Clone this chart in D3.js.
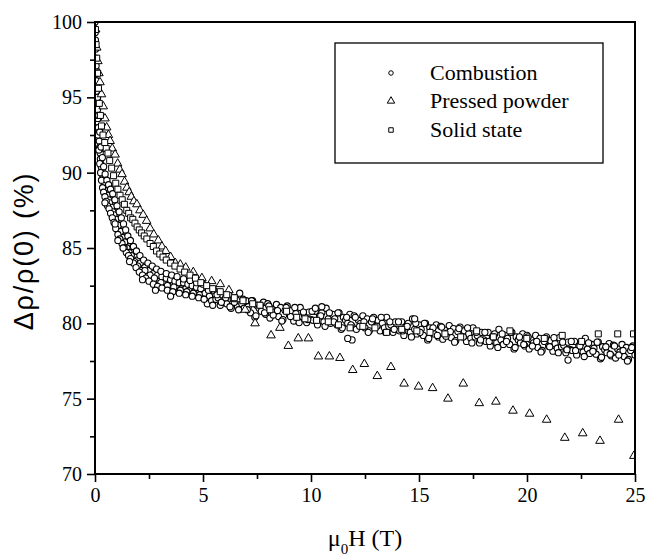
<!DOCTYPE html>
<html>
<head>
<meta charset="utf-8">
<script src="https://cdn.jsdelivr.net/npm/d3@7/dist/d3.min.js"></script>
<style>
  html, body { margin: 0; padding: 0; background: #fff; }
  svg { display: block; }
</style>
</head>
<body>
<svg id="chart" width="646" height="557"></svg>
<script>
// ---------- data ----------
const seriesNames = ["Combustion", "Pressed powder", "Solid state"];
const xTicks = [0, 5, 10, 15, 20, 25];
const yTicks = [70, 75, 80, 85, 90, 95, 100];
const xMinorTicks = [2.5, 7.5, 12.5, 17.5, 22.5];
const yMinorTicks = [72.5, 77.5, 82.5, 87.5, 92.5, 97.5];

const combustion = [
  // steep part, band centre
  [0.00,100.0],[0.01,99.3],[0.02,98.8],[0.03,98.2],[0.04,97.6],[0.05,97.1],[0.06,96.6],[0.07,96.1],
  [0.08,95.7],[0.09,95.3],[0.10,94.9],[0.12,94.2],[0.14,93.6],[0.16,93.0],[0.18,92.5],[0.20,92.1],
  [0.22,91.7],[0.24,91.3],[0.27,90.9],[0.30,90.5],[0.33,90.2],[0.36,89.9],[0.40,89.7],[0.44,89.5],
  [0.48,89.3],[0.52,89.1],[0.56,88.9],[0.60,88.8],[0.65,88.6],[0.70,88.4],[0.75,88.2],[0.80,88.0],
  [0.85,87.8],[0.90,87.6],[0.95,87.4],[1.00,87.2],[1.05,87.0],[1.10,86.8],[1.15,86.6],[1.20,86.4],
  [1.25,86.2],[1.30,86.0],[1.35,85.8],[1.40,85.6],[1.45,85.4],[1.50,85.2],[1.55,85.1],[1.60,84.9],
  [1.65,84.9],[1.70,84.6],[1.75,84.7],[1.80,84.3],[1.85,84.4],[1.90,84.1],[1.95,84.2],[2.00,83.9],
  [2.10,84.0],[2.20,83.6],[2.30,83.7],[2.40,83.3],[2.50,83.5],[2.60,83.1],[2.70,83.3],[2.80,82.9],
  [2.90,83.2],[3.00,82.8],[3.10,83.1],[3.20,82.7],[3.30,83.0],[3.40,82.6],[3.50,82.9],[3.60,82.5],
  [3.70,82.8],[3.80,82.4],[3.90,82.7],[4.00,82.3],[4.10,82.7],[4.20,82.3],[4.30,82.6],[4.40,82.2],
  [4.50,82.5],[4.60,82.1],[4.70,82.4],[4.80,82.0],[4.90,82.3],[5.00,81.9],
  // steep part, second centre sweep
  [0.13,93.6],[0.17,92.6],[0.21,91.6],[0.25,90.9],[0.29,90.4],[0.34,89.9],[0.38,89.5],[0.43,89.2],
  [0.50,88.8],[0.57,88.5],[0.63,88.2],[0.68,88.0],[0.77,87.7],[0.83,87.4],[0.88,87.2],[0.98,86.9],
  [1.08,86.5],[1.18,86.1],[1.28,85.7],[1.38,85.4],[1.48,85.0],[1.58,84.7],[1.68,84.5],[1.83,84.1],
  [1.98,83.8],[2.15,83.5],[2.31,83.5],[2.55,83.2],[2.75,83.0],[3.05,82.7],[3.35,82.5],[3.65,82.4],
  [3.95,82.2],[4.25,82.1],[4.55,82.0],[4.85,81.9],
  // steep part, lower side
  [0.06,95.4],[0.10,93.8],[0.14,92.5],[0.18,91.5],[0.22,90.6],[0.26,90.0],[0.30,89.5],[0.35,89.0],
  [0.40,88.7],[0.46,88.4],[0.52,88.1],[0.58,87.8],[0.65,87.6],[0.72,87.3],[0.80,87.0],[0.88,86.7],
  [0.96,86.3],[1.06,85.9],[1.15,85.6],[1.25,85.3],[1.35,85.0],[1.45,84.7],[1.55,84.5],[1.65,84.3],
  [1.78,84.0],[1.90,83.7],[2.05,83.4],[2.20,83.2],[2.35,83.0],[2.50,82.8],[2.70,82.6],[2.90,82.45],
  [3.10,82.35],[3.35,82.2],[3.60,82.1],[3.90,82.0],[4.20,81.9],[4.50,81.8],[4.80,81.7],
  // steep part, upper side
  [0.12,95.0],[0.17,93.8],[0.22,92.7],[0.28,91.7],[0.34,91.0],[0.40,90.4],[0.47,89.9],[0.55,89.5],
  [0.63,89.2],[0.72,88.9],[0.82,88.6],[0.92,88.2],[1.02,87.8],[1.12,87.4],[1.22,87.0],[1.32,86.6],
  [1.42,86.2],[1.52,85.8],[1.64,85.5],[1.78,85.1],[1.92,84.8],[2.08,84.5],[2.25,84.2],[2.45,84.0],
  [2.65,83.8],[2.85,83.6],[3.05,83.45],[3.30,83.3],[3.55,83.2],[3.80,83.1],[4.10,82.95],[4.40,82.85],
  [4.70,82.7],[5.00,82.6],
  // steep part, stray points
  [1.06,85.5],[0.93,86.6],[1.30,85.0],[1.60,84.1],[2.20,82.9],[2.80,82.2],[3.50,81.8],[0.46,88.0],
  // flat part
  [5.1,82.0],[5.2,81.3],[5.3,81.8],[5.4,81.5],[5.5,82.2],[5.6,81.6],[5.7,81.7],[5.8,81.2],[5.9,81.9],[6.0,81.4],
  [6.1,81.3],[6.2,81.9],[6.3,81.0],[6.4,81.6],[6.5,81.7],[6.6,81.1],[6.7,82.0],[6.8,81.3],[6.9,81.0],[7.0,81.5],
  [7.1,81.1],[7.2,80.7],[7.3,81.5],[7.4,80.4],[7.5,81.2],[7.6,81.0],[7.7,80.8],[7.8,81.4],[7.9,80.6],[8.0,81.3],
  [8.1,80.35],[8.2,80.95],[8.3,80.75],[8.4,81.25],[8.5,80.45],[8.6,81.05],[8.7,80.25],[8.8,80.85],[8.9,81.15],[9.0,80.55],
  [9.1,80.85],[9.2,80.15],[9.3,80.65],[9.4,80.35],[9.5,81.05],[9.6,80.45],[9.7,80.55],[9.8,80.05],[9.9,80.75],[10.0,80.25],
  [10.1,80.2],[10.2,80.8],[10.3,79.9],[10.4,80.5],[10.5,80.7],[10.6,80.1],[10.7,81.0],[10.8,80.3],[10.9,80.0],[11.0,80.6],
  [11.1,80.3],[11.2,79.9],[11.3,80.7],[11.4,79.6],[11.5,80.4],[11.6,80.2],[11.7,80.0],[11.8,80.6],[11.9,79.8],[12.0,80.5],
  [12.1,79.6],[12.2,80.2],[12.3,80.0],[12.4,80.5],[12.5,79.7],[12.6,80.3],[12.7,79.5],[12.8,80.1],[12.9,80.4],[13.0,79.8],
  [13.1,80.2],[13.2,79.5],[13.3,80.0],[13.4,79.7],[13.5,80.4],[13.6,79.8],[13.7,79.9],[13.8,79.4],[13.9,80.1],[14.0,79.6],
  [14.1,79.5],[14.2,80.1],[14.3,79.2],[14.4,79.8],[14.5,80.0],[14.6,79.4],[14.7,80.3],[14.8,79.6],[14.9,79.3],[15.0,79.9],
  [15.1,79.6],[15.2,79.2],[15.3,80.0],[15.4,78.9],[15.5,79.7],[15.6,79.5],[15.7,79.3],[15.8,79.9],[15.9,79.1],[16.0,79.8],
  [16.1,78.95],[16.2,79.55],[16.3,79.35],[16.4,79.85],[16.5,79.05],[16.6,79.65],[16.7,78.85],[16.8,79.45],[16.9,79.75],[17.0,79.15],
  [17.1,79.5],[17.2,78.8],[17.3,79.3],[17.4,79.0],[17.5,79.7],[17.6,79.1],[17.7,79.2],[17.8,78.7],[17.9,79.4],[18.0,78.9],
  [18.1,78.8],[18.2,79.4],[18.3,78.5],[18.4,79.1],[18.5,79.3],[18.6,78.7],[18.7,79.6],[18.8,78.9],[18.9,78.6],[19.0,79.2],
  [19.1,79.0],[19.2,78.6],[19.3,79.4],[19.4,78.3],[19.5,79.1],[19.6,78.9],[19.7,78.7],[19.8,79.3],[19.9,78.5],[20.0,79.2],
  [20.1,78.3],[20.2,78.9],[20.3,78.7],[20.4,79.2],[20.5,78.4],[20.6,79.0],[20.7,78.2],[20.8,78.8],[20.9,79.1],[21.0,78.5],
  [21.1,78.85],[21.2,78.15],[21.3,78.65],[21.4,78.35],[21.5,79.05],[21.6,78.45],[21.7,78.55],[21.8,78.05],[21.9,78.75],[22.0,78.25],
  [22.1,78.2],[22.2,78.8],[22.3,77.9],[22.4,78.5],[22.5,78.7],[22.6,78.1],[22.7,79.0],[22.8,78.3],[22.9,78.0],[23.0,78.6],
  [23.1,78.35],[23.2,77.95],[23.3,78.75],[23.4,77.65],[23.5,78.45],[23.6,78.25],[23.7,78.05],[23.8,78.65],[23.9,77.85],[24.0,78.55],
  [24.1,77.7],[24.2,78.3],[24.3,78.1],[24.4,78.6],[24.5,77.8],[24.6,78.4],[24.7,77.6],[24.8,78.2],[24.9,78.5],[25.0,77.9],
  [5.05,81.6],[5.25,82.2],[5.45,81.2],[5.65,81.9],[5.85,81.4],
  [6.05,81.7],[6.25,81.1],[6.45,81.4],[6.65,80.9],[6.85,81.6],
  [7.05,80.9],[7.25,81.5],[7.45,80.5],[7.65,81.2],[7.85,80.7],
  [8.05,81.15],[8.25,80.55],[8.45,80.85],[8.65,80.15],[8.85,81.05],
  [9.05,80.45],[9.25,81.05],[9.45,80.05],[9.65,80.75],[9.85,80.25],
  [10.05,80.8],[10.25,80.2],[10.45,80.5],[10.65,79.8],[10.85,80.7],
  [11.05,80.1],[11.25,80.7],[11.45,79.7],[11.65,80.4],[11.85,79.9],
  [12.05,80.4],[12.25,79.8],[12.45,80.1],[12.65,79.4],[12.85,80.3],
  [13.05,79.8],[13.25,80.4],[13.45,79.4],[13.65,80.1],[13.85,79.6],
  [14.05,80.1],[14.25,79.5],[14.45,79.8],[14.65,79.1],[14.85,80.0],
  [15.05,79.4],[15.25,80.0],[15.45,79.0],[15.65,79.7],[15.85,79.2],
  [16.05,79.75],[16.25,79.15],[16.45,79.45],[16.65,78.75],[16.85,79.65],
  [17.05,79.1],[17.25,79.7],[17.45,78.7],[17.65,79.4],[17.85,78.9],
  [18.05,79.4],[18.25,78.8],[18.45,79.1],[18.65,78.4],[18.85,79.3],
  [19.05,78.8],[19.25,79.4],[19.45,78.4],[19.65,79.1],[19.85,78.6],
  [20.05,79.1],[20.25,78.5],[20.45,78.8],[20.65,78.1],[20.85,79.0],
  [21.05,78.45],[21.25,79.05],[21.45,78.05],[21.65,78.75],[21.85,78.25],
  [22.05,78.8],[22.25,78.2],[22.45,78.5],[22.65,77.8],[22.85,78.7],
  [23.05,78.15],[23.25,78.75],[23.45,77.75],[23.65,78.45],[23.85,77.95],
  [24.05,78.5],[24.25,77.9],[24.45,78.2],[24.65,77.5],[24.85,78.4],
  [21.9,77.56],[11.9,78.9],[11.7,79.0],[10.2,81.0],[14.8,80.3],[10.5,81.1]
];

const pressedPowder = [
  [0.03,99.5],[0.08,98.3],[0.13,97.4],[0.18,96.6],[0.23,96.0],[0.30,95.2],[0.38,94.4],[0.46,93.6],
  [0.54,93.0],[0.62,92.5],[0.70,92.1],[0.80,91.6],[0.93,91.2],[1.05,90.6],[1.15,90.2],[1.25,89.9],
  [1.37,89.4],[1.48,89.0],[1.58,88.7],[1.68,88.4],[1.80,88.1],[1.94,87.9],[2.08,87.5],[2.23,87.2],
  [2.39,86.8],[2.55,86.3],[2.72,85.9],[2.93,85.5],[3.10,85.1],[3.27,84.8],[3.50,84.4],[3.72,84.0],
  [3.95,83.9],[4.20,83.7],[4.55,83.4],[4.95,83.0],[5.40,82.8],[5.80,82.6],[6.20,82.2],[6.56,81.6],
  [6.95,80.9],[7.41,80.0],[8.15,79.2],[8.56,79.7],[8.95,78.5],[9.41,79.0],[9.88,79.0],[10.34,77.8],
  [10.85,77.8],[11.34,77.7],[11.93,76.9],[12.47,77.3],[13.07,76.5],[13.70,77.1],[14.31,76.0],[14.98,75.8],
  [15.63,75.7],[16.34,75.0],[17.05,76.0],[17.79,74.7],[18.56,74.8],[19.35,74.2],[20.12,74.0],[20.91,73.6],
  [21.75,72.4],[22.58,72.7],[23.38,72.2],[24.24,73.6],[24.95,71.2]
];

const solidState = [
  [0.02,99.5],[0.05,98.5],[0.08,97.6],[0.12,96.6],[0.16,95.6],[0.20,94.6],[0.25,93.8],[0.30,93.1],
  [0.37,92.5],[0.45,92.0],[0.52,91.6],[0.60,91.3],[0.68,90.8],[0.77,90.3],[0.86,89.8],[0.96,89.3],
  [1.06,88.9],[1.16,88.5],[1.26,88.2],[1.36,87.9],[1.47,87.5],[1.56,87.3],[1.65,87.0],[1.75,86.9],
  [1.85,86.65],[1.95,86.4],[2.05,86.2],[2.16,86.0],[2.28,85.8],[2.40,85.6],[2.55,85.3],[2.70,85.1],
  [2.85,84.8],[3.00,84.6],[3.15,84.4],[3.30,84.2],[3.50,84.0],[3.70,83.8],[3.94,83.6],[4.15,83.4],
  [4.40,83.2],[4.65,83.0],[4.90,82.7],[5.17,82.5],[5.45,82.3],[5.80,82.1],[6.10,81.9],[6.45,81.7],
  [6.85,81.5],[7.30,81.3],[7.64,81.2],[8.10,80.9],[8.87,80.8],[9.34,80.4],[9.72,80.3],[10.26,80.2],
  [10.80,80.1],[11.27,79.9],[11.81,79.7],[12.40,79.8],[12.96,79.7],[13.50,79.4],[14.20,79.6],[14.90,79.5],
  [15.51,79.4],[16.20,79.3],[16.93,79.1],[17.67,79.5],[18.44,79.1],[19.21,79.5],[19.99,79.0],[20.80,79.0],
  [21.63,79.2],[22.53,78.8],[23.30,79.3],[24.20,79.3],[24.93,79.3]
];

// ---------- layout ----------
const svg = d3.select("#chart");
const L = 95, R = 635, T = 22, B = 474;
const x = d3.scaleLinear().domain([0, 25]).range([L, R]);
const y = d3.scaleLinear().domain([70, 100]).range([B, T]);
const serif = "'Liberation Serif', 'Times New Roman', serif";
const sans = "'Liberation Sans', Arial, sans-serif";

svg.append("defs").append("clipPath").attr("id", "clip")
  .append("rect").attr("x", L).attr("y", T).attr("width", R - L).attr("height", B - T);

const plot = svg.append("g").attr("clip-path", "url(#clip)");

// circles
plot.append("g").selectAll("circle").data(combustion).join("circle")
  .attr("cx", d => x(d[0])).attr("cy", d => y(d[1])).attr("r", 3.1)
  .attr("fill", "#fff").attr("stroke", "#000").attr("stroke-width", 1.1);

const tri = d3.symbol().type(d3.symbolTriangle).size(32);
plot.append("g").selectAll("path").data(pressedPowder).join("path")
  .attr("d", tri)
  .attr("transform", d => `translate(${x(d[0])},${y(d[1])})`)
  .attr("fill", "#fff").attr("stroke", "#000").attr("stroke-width", 1);

const sq = d3.symbol().type(d3.symbolSquare).size(36);
plot.append("g").selectAll("path").data(solidState).join("path")
  .attr("d", sq)
  .attr("transform", d => `translate(${x(d[0])},${y(d[1])})`)
  .attr("fill", "#fff").attr("stroke", "#000").attr("stroke-width", 1);

// ---------- axes ----------
const xAxis = svg.append("g").attr("transform", `translate(0,${B})`)
  .call(d3.axisBottom(x).tickValues(xTicks).tickSize(8).tickPadding(6).tickSizeOuter(0).tickFormat(d3.format("d")));
const xMinor = svg.append("g").attr("transform", `translate(0,${B})`)
  .call(d3.axisBottom(x).tickValues(xMinorTicks).tickSize(5).tickSizeOuter(0).tickFormat(""));
const yAxis = svg.append("g").attr("transform", `translate(${L},0)`)
  .call(d3.axisLeft(y).tickValues(yTicks).tickSize(8).tickPadding(5).tickSizeOuter(0).tickFormat(d3.format("d")));
const yMinor = svg.append("g").attr("transform", `translate(${L},0)`)
  .call(d3.axisLeft(y).tickValues(yMinorTicks).tickSize(5).tickSizeOuter(0).tickFormat(""));

[xAxis, xMinor, yAxis, yMinor].forEach(g => {
  g.select(".domain").remove();
  g.selectAll("line").attr("stroke", "#000").attr("stroke-width", 1.6);
  g.selectAll("text").attr("font-family", serif).attr("font-size", 20).attr("fill", "#000");
});

// frame
svg.append("rect").attr("x", L).attr("y", T).attr("width", R - L).attr("height", B - T)
  .attr("fill", "none").attr("stroke", "#000").attr("stroke-width", 2);

// axis titles
const xt = svg.append("text").attr("x", (L + R) / 2).attr("y", 546)
  .attr("text-anchor", "middle").attr("font-family", serif).attr("font-size", 24).attr("fill", "#000");
xt.append("tspan").text("μ");
xt.append("tspan").attr("font-size", 15).attr("dy", 8).text("0");
xt.append("tspan").attr("dy", -8).text("H (T)");

svg.append("text")
  .attr("transform", `translate(33,251) rotate(-90)`)
  .attr("text-anchor", "middle").attr("font-family", sans).attr("font-size", 27)
  .attr("letter-spacing", 1.8).attr("fill", "#000")
  .text("Δρ/ρ(0) (%)");

// ---------- legend ----------
const leg = svg.append("g");
leg.append("rect").attr("x", 335).attr("y", 43).attr("width", 268).attr("height", 120)
  .attr("fill", "#fff").attr("stroke", "#000").attr("stroke-width", 1.3);
const legSyms = [d3.symbol().type(d3.symbolCircle).size(16), d3.symbol().type(d3.symbolTriangle).size(24), d3.symbol().type(d3.symbolSquare).size(20)];
const legY = [73, 101, 130];
seriesNames.forEach((name, i) => {
  leg.append("path").attr("d", legSyms[i]).attr("transform", `translate(391,${legY[i]})`)
    .attr("fill", "#fff").attr("stroke", "#000").attr("stroke-width", 1);
  leg.append("text").attr("x", 430).attr("y", legY[i] + 7).attr("font-family", serif)
    .attr("font-size", 22).attr("fill", "#000").text(name);
});
</script>
</body>
</html>
